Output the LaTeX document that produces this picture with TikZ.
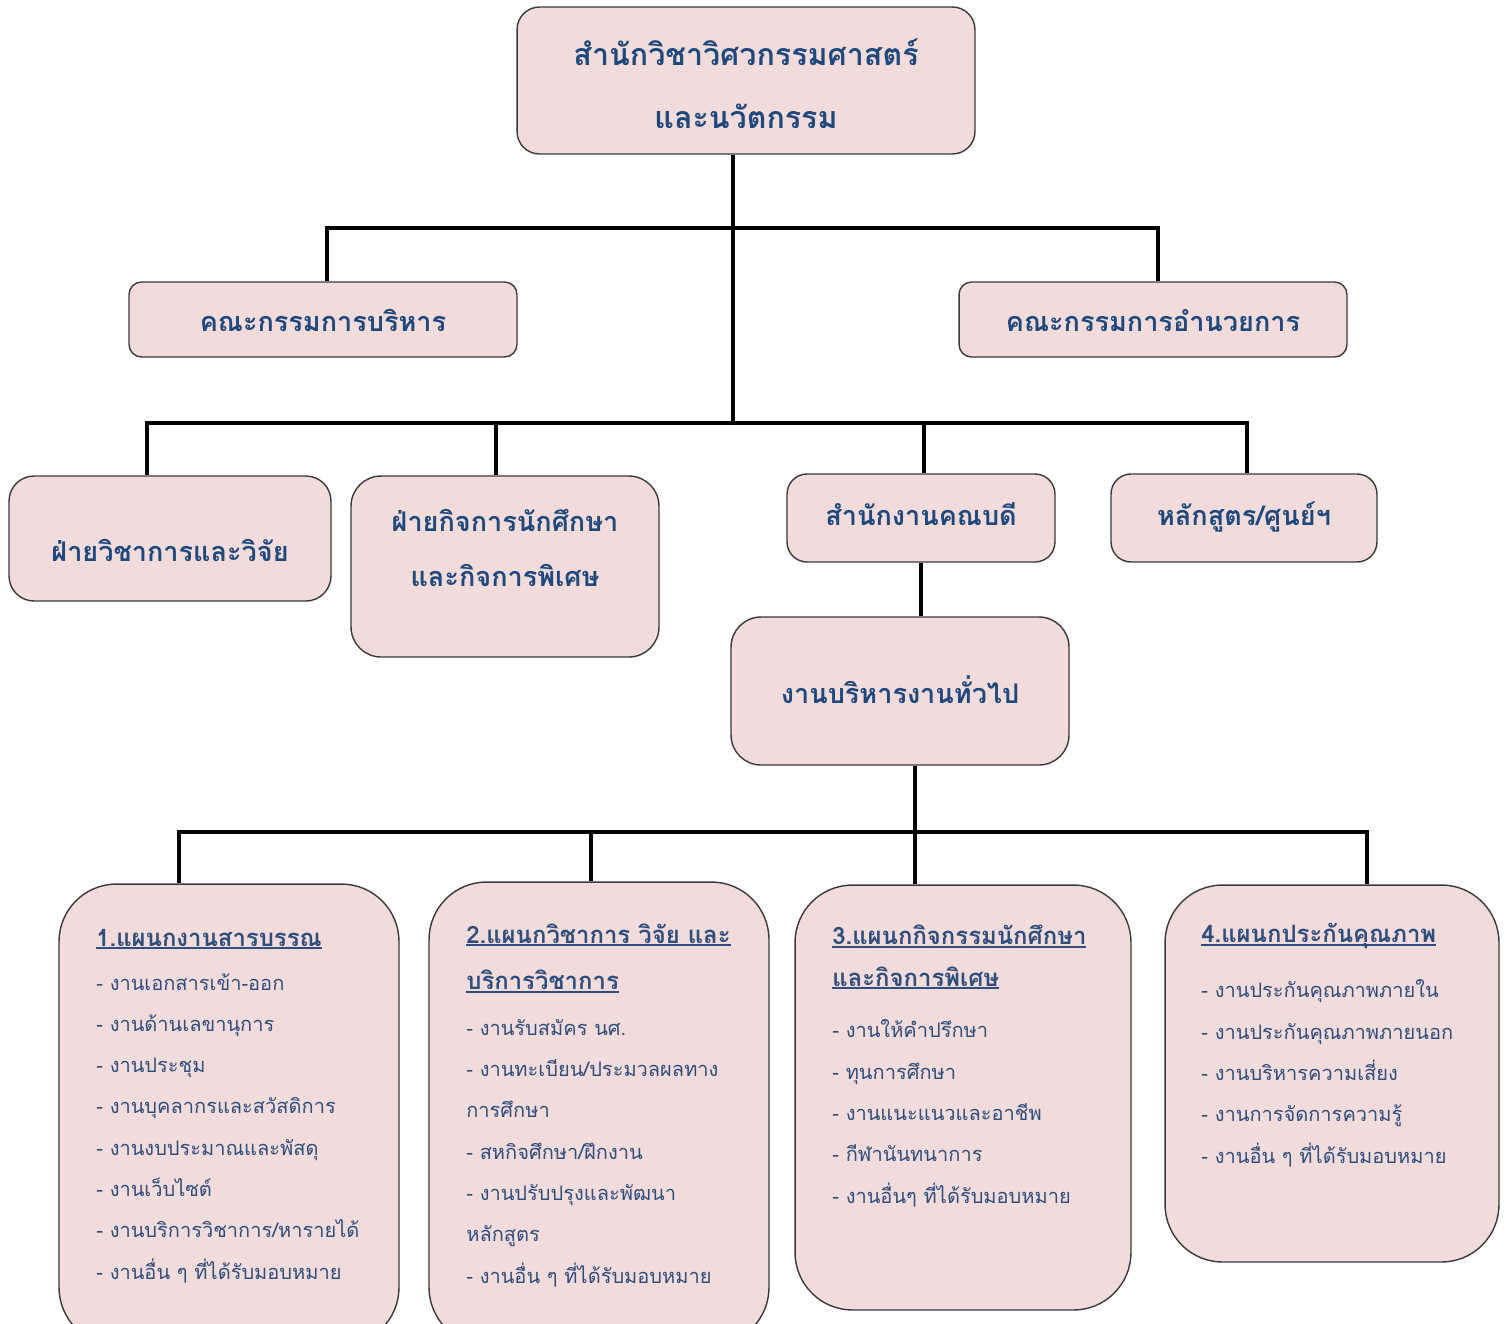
\documentclass[tikz,border=0pt]{standalone}
\usepackage{fontspec}
\newfontfamily\thaifont[Script=Thai]{Loma}
\definecolor{boxfill}{HTML}{F2DCDB}
\definecolor{boxline}{HTML}{3A3A3A}
\definecolor{headblue}{HTML}{1F497D}
\definecolor{listblue}{HTML}{2E4E7E}
\newsavebox{\hdbox}
\newcommand{\hdline}[1]{\sbox{\hdbox}{#1}\rlap{\rule[-1.6pt]{\wd\hdbox}{1.1pt}}\usebox{\hdbox}}
\newcommand{\hdfont}{\fontsize{13.6}{23.5}\selectfont\bfseries}
\begin{document}
\begin{tikzpicture}[x=0.02cm, y=-0.02cm,
  box/.style={draw=boxline, line width=0.8pt, fill=boxfill, rounded corners=#1, inner sep=0pt},
  title/.style={font=\thaifont\bfseries\fontsize{15.4}{31.2}\selectfont, text=headblue, align=center, anchor=base, inner sep=0pt},
  items/.style={font=\thaifont\fontsize{11.4}{23.5}\selectfont, text=listblue, align=left, anchor=base west, inner sep=0pt},
  link/.style={draw, line width=2.8pt}]
\useasboundingbox (0,0) rectangle (1506,1323);
% boxes
\node[box=0.45cm, minimum width=9.16cm, minimum height=2.94cm] (1) at (746,80.5) {};
\node[box=0.25cm, minimum width=7.76cm, minimum height=1.5cm] (2) at (323,319.5) {};
\node[box=0.25cm, minimum width=7.76cm, minimum height=1.5cm] (3) at (1153,319.5) {};
\node[box=0.5cm, minimum width=6.44cm, minimum height=2.5cm] (4) at (170,538.5) {};
\node[box=0.6cm, minimum width=6.16cm, minimum height=3.62cm] (5) at (505,566.5) {};
\node[box=0.4cm, minimum width=5.36cm, minimum height=1.76cm] (6) at (921,518) {};
\node[box=0.4cm, minimum width=5.32cm, minimum height=1.76cm] (7) at (1244,518) {};
\node[box=0.6cm, minimum width=6.76cm, minimum height=2.96cm] (8) at (900,691) {};
\node[box=1.15cm, minimum width=6.8cm, minimum height=9.22cm] (9) at (229,1114.5) {};
\node[box=1.15cm, minimum width=6.8cm, minimum height=9.26cm] (10) at (599,1113.5) {};
\node[box=1.15cm, minimum width=6.72cm, minimum height=8.5cm] (11) at (963,1097.5) {};
\node[box=1.15cm, minimum width=6.68cm, minimum height=7.54cm] (12) at (1332,1073.5) {};
% texts (base = last line)
\node[title, font=\thaifont\bfseries\fontsize{17.3}{35.7}\selectfont] (t1) at (746,128) {สำนักวิชาวิศวกรรมศาสตร์\\และนวัตกรรม};
\node[title] (t2) at (323,331) {คณะกรรมการบริหาร};
\node[title] (t3) at (1153,331) {คณะกรรมการอำนวยการ};
\node[title] (t4) at (170,561) {ฝ่ายวิชาการและวิจัย};
\node[title] (t5) at (505,586) {ฝ่ายกิจการนักศึกษา\\และกิจการพิเศษ};
\node[title] (t6) at (921,525) {สำนักงานคณบดี};
\node[title] (t7) at (1244,525) {หลักสูตร/ศูนย์ฯ};
\node[title] (t8) at (900,703) {งานบริหารงานทั่วไป};
\node[items] (t9) at (96,1279) {{\hdfont\hdline{1.แผนกงานสารบรรณ}}\\[1.5pt]
- งานเอกสารเข้า-ออก\\
- งานด้านเลขานุการ\\
- งานประชุม\\
- งานบุคลากรและสวัสดิการ\\
- งานงบประมาณและพัสดุ\\
- งานเว็บไซต์\\
- งานบริการวิชาการ/หารายได้\\
- งานอื่น ๆ ที่ได้รับมอบหมาย};
\node[items] (t10) at (466,1283) {{\hdfont\hdline{2.แผนกวิชาการ วิจัย และ}}\\[3pt]
{\hdfont\hdline{บริการวิชาการ}}\\[2.4pt]
- งานรับสมัคร นศ.\\
- งานทะเบียน/ประมวลผลทาง\\
การศึกษา\\
- สหกิจศึกษา/ฝึกงาน\\
- งานปรับปรุงและพัฒนา\\
หลักสูตร\\
- งานอื่น ๆ ที่ได้รับมอบหมาย};
\node[items] (t11) at (832,1203) {{\hdfont\hdline{3.แผนกกิจกรรมนักศึกษา}}\\
{\hdfont\hdline{และกิจการพิเศษ}}\\[6pt]
- งานให้คำปรึกษา\\
- ทุนการศึกษา\\
- งานแนะแนวและอาชีพ\\
- กีฬานันทนาการ\\
- งานอื่นๆ ที่ได้รับมอบหมาย};
\node[items] (t12) at (1201,1163) {{\hdfont\hdline{4.แผนกประกันคุณภาพ}}\\[7.8pt]
- งานประกันคุณภาพภายใน\\
- งานประกันคุณภาพภายนอก\\
- งานบริหารความเสี่ยง\\
- งานการจัดการความรู้\\
- งานอื่น ๆ ที่ได้รับมอบหมาย};
% connectors
\coordinate (b1) at (733,228);
\coordinate (b2) at (733,423);
\coordinate (b3) at (915,832);
\coordinate (c2) at (327,228);
\coordinate (c3) at (1158,228);
\coordinate (d4) at (147,423);
\coordinate (d5) at (496,423);
\coordinate (d6) at (924,423);
\coordinate (d7) at (1247,423);
\coordinate (e9) at (179,832);
\coordinate (e10) at (591,832);
\coordinate (e11) at (915,832);
\coordinate (e12) at (1367,832);
\path[link] (b1 |- 1.south) -- (b2);
\path[link] (c2 |- 2.north) -- (c2) -- (c3) -- (c3 |- 3.north);
\path[link] (d4 |- 4.north) -- (d4) -- (d7) -- (d7 |- 7.north);
\path[link] (d5) -- (d5 |- 5.north);
\path[link] (d6) -- (d6 |- 6.north);
\path[link] (6.south) -- (6.south |- 8.north);
\path[link] (b3 |- 8.south) -- (b3);
\path[link] (e9 |- 9.north) -- (e9) -- (e12) -- (e12 |- 12.north);
\path[link] (e10) -- (e10 |- 10.north);
\path[link] (e11) -- (e11 |- 11.north);
\end{tikzpicture}
\end{document}
